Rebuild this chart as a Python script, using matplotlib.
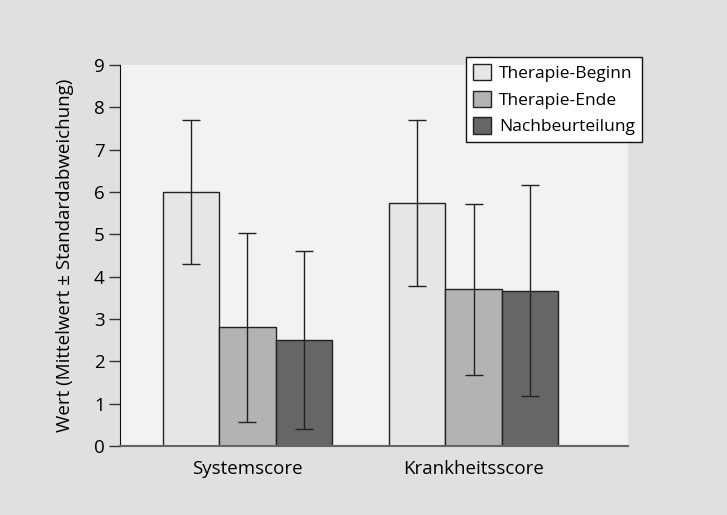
import matplotlib
matplotlib.use("Agg")
import matplotlib.pyplot as plt
import numpy as np

plt.rcParams['font.family'] = ['Open Sans', 'DejaVu Sans']

groups = ["Systemscore", "Krankheitsscore"]
series = ["Therapie-Beginn", "Therapie-Ende", "Nachbeurteilung"]
means = {
    "Therapie-Beginn": [6.0, 5.75],
    "Therapie-Ende": [2.8, 3.7],
    "Nachbeurteilung": [2.5, 3.67],
}
sds = {
    "Therapie-Beginn": [1.71, 1.96],
    "Therapie-Ende": [2.24, 2.02],
    "Nachbeurteilung": [2.1, 2.5],
}
colors = ["#e6e6e6", "#b3b3b3", "#666666"]

fig = plt.figure(figsize=(7.27, 5.15), dpi=100, facecolor="#e0e0e0")
ax = fig.add_axes([0.165, 0.134, 0.699, 0.740])
ax.set_facecolor("#f2f2f2")

x = np.arange(len(groups))
w = 0.25
for i, s in enumerate(series):
    ax.bar(x + (i - 1) * w, means[s], w, color=colors[i], edgecolor="#222222",
           linewidth=1.0, label=s, zorder=2)
    ax.errorbar(x + (i - 1) * w, means[s], yerr=sds[s], fmt="none",
                ecolor="#222222", elinewidth=1.0, capsize=6.5, capthick=1.0, zorder=3)

ax.set_xlim(-0.564, 1.684)
ax.set_ylim(0, 9)
ax.set_yticks(range(10))
ax.set_xticks(x)
ax.set_xticklabels(groups, fontsize=13.5)
ax.tick_params(axis="y", labelsize=13.5, length=8, width=1, color="#333333", pad=3)
ax.tick_params(axis="x", length=0, pad=10)
for sp in ["top", "right"]:
    ax.spines[sp].set_visible(False)
ax.spines["left"].set_color("#111111")
ax.spines["bottom"].set_color("#666666")
ax.spines["bottom"].set_linewidth(1.5)
ax.set_ylabel("Wert (Mittelwert ± Standardabweichung)", fontsize=13.5, labelpad=14)

leg = ax.legend(loc="upper right", bbox_to_anchor=(0.883, 0.889),
                bbox_transform=fig.transFigure, fontsize=12.5, frameon=True,
                fancybox=False, edgecolor="#111111", framealpha=1,
                handlelength=1.05, handleheight=1.05, handletextpad=0.45,
                labelspacing=0.5, borderpad=0.4, borderaxespad=0)
leg.get_frame().set_linewidth(1.0)

fig.savefig("out.png", dpi=100, facecolor=fig.get_facecolor())
